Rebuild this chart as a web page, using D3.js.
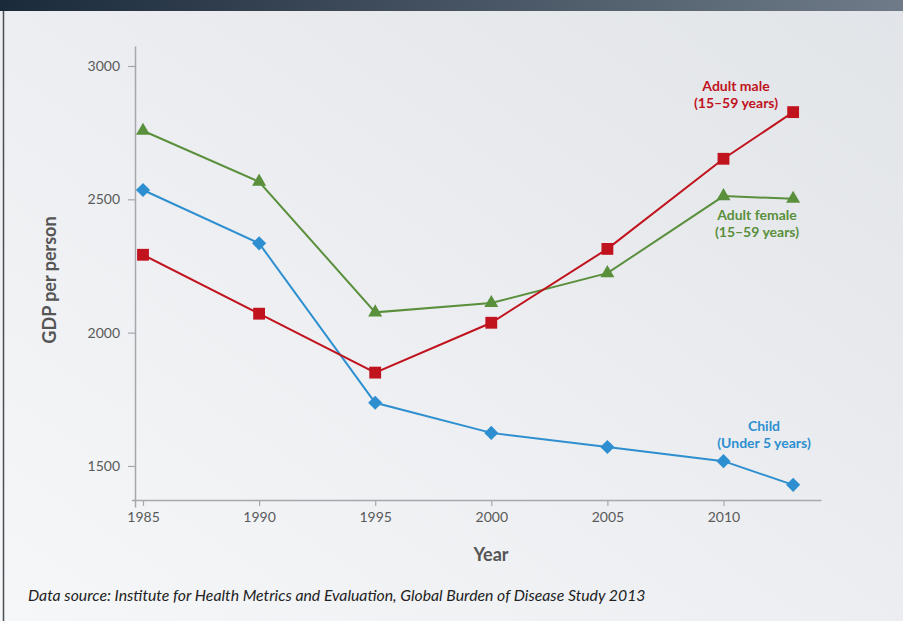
<!DOCTYPE html>
<html><head><meta charset="utf-8">
<script src="https://cdn.jsdelivr.net/npm/d3@7"></script>
<style>
html,body{margin:0;padding:0;background:#fff;}
svg{display:block;font-family:Lato, "Open Sans", sans-serif;}
</style></head>
<body>
<svg id="chart" width="903" height="621"></svg>
<script>
const years = [1985, 1990, 1995, 2000, 2005, 2010, 2013];
const adultFemale = [2757, 2566, 2076, 2111, 2223, 2512, 2502];
const child = [2535, 2335, 1737, 1624, 1571, 1518, 1429];
const adultMale = [2292, 2071, 1850, 2037, 2314, 2652, 2827];
const xTicks = [1985, 1990, 1995, 2000, 2005, 2010];
const yTicks = [1500, 2000, 2500, 3000];
const seriesNames = ["Adult female", "Child", "Adult male"];

const svg = d3.select("#chart");
const defs = svg.append("defs");
const bgGrad = defs.append("linearGradient").attr("id","bg").attr("x1","0").attr("y1","1").attr("x2","1").attr("y2","0");
bgGrad.append("stop").attr("offset","0").attr("stop-color","#f6f7f9");
bgGrad.append("stop").attr("offset","1").attr("stop-color","#e1e4e8");
const topGrad = defs.append("linearGradient").attr("id","topbar").attr("x1","0").attr("y1","0").attr("x2","1").attr("y2","0");
topGrad.append("stop").attr("offset","0").attr("stop-color","#1b2a3b");
topGrad.append("stop").attr("offset","1").attr("stop-color","#6f7b88");

svg.append("rect").attr("width",903).attr("height",621).attr("fill","url(#bg)");
svg.append("rect").attr("width",903).attr("height",11).attr("fill","url(#topbar)");
svg.append("line").attr("x1",3.5).attr("x2",3.5).attr("y1",11).attr("y2",621).attr("stroke","#4a4f55").attr("stroke-width",1.5);

const x = d3.scaleLinear().domain([1984.5, 2014.2]).range([131.4, 821]);
const y = d3.scaleLinear().domain([1346, 3075]).range([507, 46]);

const gx = svg.append("g").attr("transform","translate(0,500)")
  .call(d3.axisBottom(x).tickValues(xTicks).tickFormat(d3.format("d")).tickSize(6).tickSizeOuter(0).tickPadding(6));
const gy = svg.append("g").attr("transform","translate(135,0)")
  .call(d3.axisLeft(y).tickValues(yTicks).tickFormat(d3.format("d")).tickSize(7).tickSizeOuter(0).tickPadding(8));
[gx, gy].forEach(g => {
  g.select(".domain").attr("stroke","#a6a8ab").attr("stroke-width",1.5);
  g.selectAll(".tick line").attr("stroke","#a6a8ab").attr("stroke-width",1.2);
  g.selectAll(".tick text").attr("fill","#5a5a5a").style("font-size","14px").style("font-family","Lato, sans-serif");
});

svg.append("text").attr("transform","translate(56,280) rotate(-90)").attr("text-anchor","middle")
  .attr("fill","#555").style("font-size","18px").style("font-weight","bold").text("GDP per person");
svg.append("text").attr("x",491).attr("y",561).attr("text-anchor","middle")
  .attr("fill","#555").style("font-size","18px").style("font-weight","bold").text("Year");

const series = [
  {name: seriesNames[0], values: adultFemale, color:"#5a8f3c", symbol:d3.symbolTriangle, size:85, rot:0, label:["Adult female","(15–59 years)"], lx:757, ly:220},
  {name: seriesNames[1], values: child, color:"#2e8fd0", symbol:d3.symbolSquare, size:100, rot:45, label:["Child","(Under 5 years)"], lx:764, ly:431},
  {name: seriesNames[2], values: adultMale, color:"#c0131e", symbol:d3.symbolSquare, size:140, rot:0, label:["Adult male","(15–59 years)"], lx:736, ly:91}
];
const line = d3.line().x((d,i)=>x(years[i])).y(d=>y(d));
series.forEach(s => {
  const g = svg.append("g");
  g.append("path").datum(s.values).attr("d", line).attr("fill","none").attr("stroke",s.color).attr("stroke-width",2);
  g.selectAll("path.m").data(s.values).join("path").attr("class","m")
    .attr("transform",(d,i)=>`translate(${x(years[i])},${y(d)}) rotate(${s.rot})`)
    .attr("d", d3.symbol().type(s.symbol).size(s.size)).attr("fill",s.color);
  const t = svg.append("text").attr("text-anchor","middle").attr("fill",s.color)
    .style("font-size","14px").style("font-weight","bold");
  s.label.forEach((l,k)=> t.append("tspan").attr("x",s.lx).attr("y",s.ly+k*17).text(l));
});

svg.append("text").attr("x",28).attr("y",601).attr("fill","#222")
  .style("font-size","15.8px").style("font-style","italic")
  .text("Data source: Institute for Health Metrics and Evaluation, Global Burden of Disease Study 2013");
</script>
</body></html>
